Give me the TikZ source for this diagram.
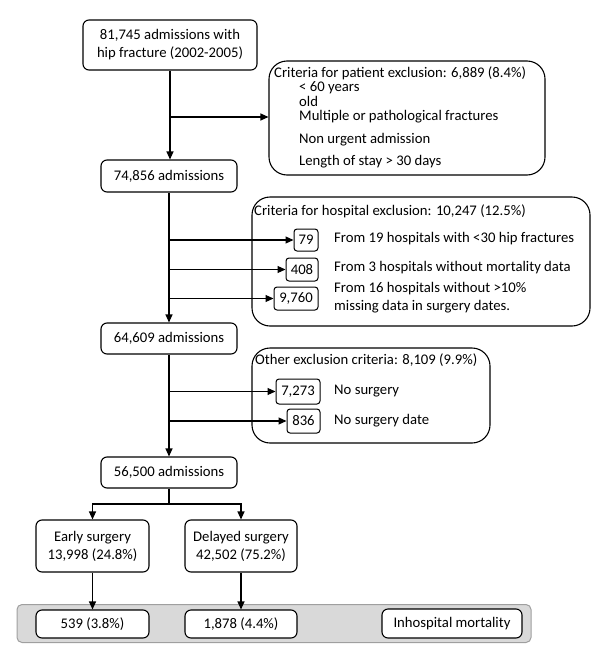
\documentclass[tikz,border=0pt]{standalone}
\usepackage{fontspec}
\setmainfont{Carlito}
\usetikzlibrary{arrows.meta}
\begin{document}
\begin{tikzpicture}[x=1pt,y=-1pt,
  font=\fontsize{14.7}{18}\selectfont,
  box/.style={draw, rounded corners=6pt, line width=1.1pt, align=center, inner sep=0pt, fill=white},
  bigbox/.style={draw, rounded corners=18pt, line width=1.1pt, inner sep=0pt},
  numbox/.style={draw, rounded corners=3pt, line width=1pt, inner sep=0pt, fill=white},
  txt/.style={anchor=west, inner sep=0pt, text height=0.66em, text depth=0.2em},
  conn/.style={line width=1.1pt},
  arr/.style={line width=1.1pt, -{Triangle[length=8pt,width=7pt]}}]
\useasboundingbox (0,0) rectangle (600,656);
% main column
\node[box, minimum width=174pt, minimum height=50pt] (top) at (170,45) {81,745 admissions with\\hip fracture (2002-2005)};
\node[box, minimum width=136pt, minimum height=32pt] (n1) at (169,176) {74,856 admissions};
\node[box, minimum width=136pt, minimum height=31pt] (n2) at (169,338.5) {64,609 admissions};
\node[box, minimum width=136pt, minimum height=31pt] (n3) at (169,472.5) {56,500 admissions};
% patient exclusion
\node[bigbox, minimum width=276pt, minimum height=114pt] (pat) at (407,118) {};
\node[txt] (pt0) at (274,75) {Criteria for patient exclusion: 6,889 (8.4\%)};
\node[txt] (pt1) at (299,89.5) {< 60 years};
\node[txt] (pt2) at (299,104) {old};
\node[txt] (pt3) at (299,118.5) {Multiple or pathological fractures};
\node[txt] (pt4) at (299,141) {Non urgent admission};
\node[txt] (pt5) at (299,163) {Length of stay > 30 days};
% hospital exclusion
\node[bigbox, minimum width=338pt, minimum height=129pt] (hosp) at (421,261.5) {};
\node[txt] (ht0) at (254,213) {Criteria for hospital exclusion: 10,247 (12.5\%)};
\node[numbox, minimum width=24pt, minimum height=22pt] (b79) at (306,240) {79};
\node[numbox, minimum width=32pt, minimum height=23pt] (b408) at (302,269.5) {408};
\node[numbox, minimum width=44pt, minimum height=23pt] (b9760) at (296,298.5) {9,760};
\node[txt] (ht1) at (334,240) {From 19 hospitals with <30 hip fractures};
\node[txt] (ht2) at (334,269) {From 3 hospitals without mortality data};
\node[txt] (ht3) at (334,290) {From 16 hospitals without >10\%};
\node[txt] (ht4) at (334,308) {missing data in surgery dates.};
% other exclusion
\node[bigbox, minimum width=238pt, minimum height=95pt] (oth) at (371,395.5) {};
\node[txt] (ot0) at (255,362) {Other exclusion criteria: 8,109 (9.9\%)};
\node[numbox, minimum width=44pt, minimum height=25pt] (b7273) at (298,391.5) {7,273};
\node[numbox, minimum width=33pt, minimum height=24pt] (b836) at (303.5,421) {836};
\node[txt] (ot1) at (334,392) {No surgery};
\node[txt] (ot2) at (334,422) {No surgery date};
% surgery groups
\node[box, minimum width=113pt, minimum height=52pt] (early) at (92.5,546) {Early surgery\\13,998 (24.8\%)};
\node[box, minimum width=112pt, minimum height=52pt] (delayed) at (241,546) {Delayed surgery\\42,502 (75.2\%)};
% mortality band
\node[draw=gray!75, fill=gray!30, rounded corners=5pt, line width=1pt, minimum width=514pt, minimum height=38pt, inner sep=0pt] (band) at (274,623.5) {};
\node[box, minimum width=113pt, minimum height=28pt] (r539) at (92.5,624) {539 (3.8\%)};
\node[box, minimum width=112pt, minimum height=28pt] (r1878) at (241,624) {1,878 (4.4\%)};
\node[box, minimum width=140pt, minimum height=29pt] (mort) at (452,623.5) {Inhospital mortality};
% junctions
\coordinate (j1) at (170,117);
\coordinate (j2) at (169,240);
\coordinate (j3) at (169,269.5);
\coordinate (j4) at (169,298.5);
\coordinate (j5) at (169,391.5);
\coordinate (j6) at (169,421);
\coordinate (split) at (169,504);
% connectors
\draw[arr] (top.south) -- (top.south |- n1.north);
\draw[arr] (j1) -- (j1 -| pat.west);
\draw[arr] (n1.south) -- (n2.north);
\draw[arr] (j2) -- (b79.west);
\draw[arr] (j3) -- (b408.west);
\draw[arr] (j4) -- (b9760.west);
\draw[arr] (n2.south) -- (n3.north);
\draw[arr] (j5) -- (b7273.west);
\draw[arr] (j6) -- (b836.west);
\draw[conn] (n3.south) -- (split);
\draw[arr] (split) -| (early.north);
\draw[arr] (split) -| (delayed.north);
\draw[arr] (early.south) -- (r539.north);
\draw[arr] (delayed.south) -- (r1878.north);
\end{tikzpicture}
\end{document}
